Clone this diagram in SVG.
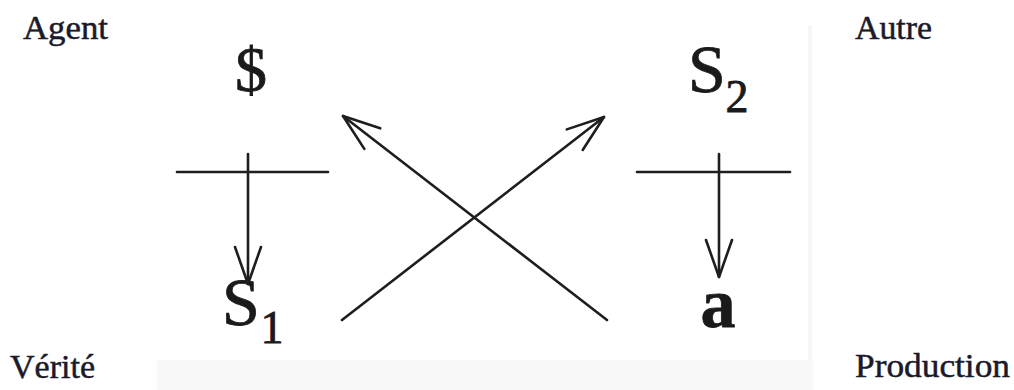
<svg xmlns="http://www.w3.org/2000/svg" width="1014" height="390" viewBox="0 0 1014 390">
  <style>
    .lbl { font-family: "Liberation Serif", "Times New Roman", serif; font-size: 34px; fill: #1a1a2a; stroke: #1a1a2a; stroke-width: 0.5; }
    .sym { font-family: "Liberation Serif", "Times New Roman", serif; fill: #1a1a1a; stroke: #1a1a1a; stroke-width: 0.8; text-anchor: middle; }
    .big { font-size: 68px; }
    .sub { font-size: 46px; }
    .ln { stroke: #1e1e1e; stroke-width: 2.6; fill: none; stroke-linecap: round; }
    .arr { stroke: #1e1e1e; stroke-width: 2.6; fill: none; stroke-linecap: round; marker-end: url(#head); }
  </style>
  <defs>
    <marker id="head" markerUnits="userSpaceOnUse" viewBox="-42 -16 46 32" refX="0" refY="0" markerWidth="46" markerHeight="32" orient="auto">
      <path d="M-37,-13 L0,0 L-37,13" fill="none" stroke="#1e1e1e" stroke-width="2.6" stroke-linecap="round" stroke-linejoin="round"/>
    </marker>
  </defs>
  <rect x="0" y="0" width="1014" height="390" fill="#ffffff"/>
  <rect x="157" y="360" width="656" height="30" fill="#f8f8f8"/>
  <line x1="810" y1="25" x2="810" y2="360" stroke="#f7f7f7" stroke-width="4"/>

  <g id="label-agent"><text class="lbl" x="23" y="39" textLength="85" lengthAdjust="spacingAndGlyphs">Agent</text></g>
  <g id="label-autre"><text class="lbl" x="855" y="39" textLength="77" lengthAdjust="spacingAndGlyphs">Autre</text></g>
  <g id="label-verite"><text class="lbl" x="10" y="378" textLength="85" lengthAdjust="spacingAndGlyphs">Vérité</text></g>
  <g id="label-production"><text class="lbl" x="855" y="377" textLength="155" lengthAdjust="spacingAndGlyphs">Production</text></g>

  <g id="node-barred-s"><text class="sym" x="251" y="91" font-size="64">$</text></g>
  <g id="node-s2">
    <text class="sym big" x="707" y="92">S</text>
    <text class="sym sub" x="737" y="112">2</text>
  </g>
  <g id="node-s1">
    <text class="sym big" x="241" y="325">S</text>
    <text class="sym sub" x="272" y="343">1</text>
  </g>
  <g id="node-a"><text class="sym" x="718" y="327" font-size="70" font-weight="bold">a</text></g>

  <g id="connectors">
    <line class="ln" x1="177" y1="172" x2="328" y2="172"/>
    <line class="ln" x1="637" y1="172" x2="790" y2="172"/>
    <line class="arr" x1="248" y1="154" x2="248" y2="284"/>
    <line class="arr" x1="719" y1="154" x2="719" y2="277"/>
    <line class="arr" x1="342" y1="320" x2="604" y2="117"/>
    <line class="arr" x1="607" y1="320" x2="343" y2="116"/>
  </g>
</svg>
